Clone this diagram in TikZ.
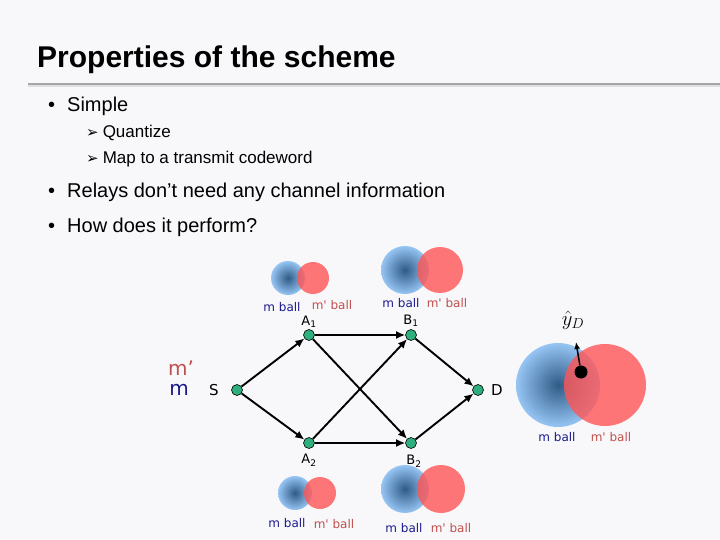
\documentclass[tikz,border=0pt]{standalone}
\usepackage{fontspec}
\setmainfont{Liberation Sans}
\newfontfamily\dejavu{DejaVu Sans}
\usetikzlibrary{arrows.meta}
\definecolor{bg}{HTML}{F8F8FA}
\definecolor{nodeg}{HTML}{2EAF7D}
\definecolor{mblue}{HTML}{1A1A8C}
\definecolor{mred}{HTML}{C0504D}
\definecolor{bdark}{HTML}{1A4A7A}
\definecolor{blight}{HTML}{8CC0F4}
\definecolor{rball}{HTML}{FF5555}
\tikzset{
  relay/.style={circle,draw=black,fill=nodeg,inner sep=0pt,minimum size=11pt,line width=0.6pt},
  link/.style={-{Latex[length=9pt,width=8pt]},line width=1.9pt},
  lbl/.style={font=\dejavu\fontsize{12}{12}\selectfont,inner sep=0pt},
  mb/.style={lbl,text=mblue},
  mr/.style={lbl,text=mred},
}
\newcommand{\ballpair}[6]{%
  \shade[inner color=bdark,outer color=blight,opacity=0.9] (#1,#2) circle (#3);
  \fill[rball,opacity=0.8] (#4,#5) circle (#6);}
\begin{document}
\begin{tikzpicture}[x=1pt,y=-1pt]
\fill[bg] (0,0) rectangle (720,540);
\useasboundingbox (0,0) rectangle (720,540);
\node[anchor=west,inner sep=0pt,font=\bfseries\fontsize{30}{30}\selectfont] (title) at (37,60) {Properties of the scheme};
\draw[gray!70,line width=1.2pt] (28,84) -- (720,84);
\draw[gray!25,line width=1.5pt] (28,86) -- (720,86);
\node[anchor=west,inner sep=0pt,font=\fontsize{20}{20}\selectfont] (b1) at (48,106) {•\hspace{12pt}Simple};
\node[anchor=west,inner sep=0pt,font=\fontsize{17}{17}\selectfont] (s1) at (86,133) {{\dejavu\fontsize{15}{15}\selectfont ➢}\hspace{4pt}Quantize};
\node[anchor=west,inner sep=0pt,font=\fontsize{17}{17}\selectfont] (s2) at (86,159) {{\dejavu\fontsize{15}{15}\selectfont ➢}\hspace{4pt}Map to a transmit codeword};
\node[anchor=west,inner sep=0pt,font=\fontsize{20}{20}\selectfont] (b2) at (48,192) {•\hspace{12pt}Relays don’t need any channel information};
\node[anchor=west,inner sep=0pt,font=\fontsize{20}{20}\selectfont] (b3) at (48,227) {•\hspace{12pt}How does it perform?};
% balls
\ballpair{288}{278}{17}{313}{278}{16}
\ballpair{405}{270}{24}{440}{270}{23}
\ballpair{295}{493}{17}{320}{493}{16}
\ballpair{405}{489}{24}{441}{489}{24}
\ballpair{558}{385}{42}{605}{385}{41}
\node[mb] (l1) at (282,307) {m ball};
\node[mr] (l2) at (332,305) {m' ball};
\node[mb] (l3) at (401,303) {m ball};
\node[mr] (l4) at (447,303) {m' ball};
\node[mb] (l5) at (287,523) {m ball};
\node[mr] (l6) at (334,524) {m' ball};
\node[mb] (l7) at (404,528) {m ball};
\node[mr] (l8) at (451,528) {m' ball};
\node[mb] (l9) at (557,437) {m ball};
\node[mr] (l10) at (611,437) {m' ball};
% network
\node[relay] (S) at (237,390) {};
\node[relay] (A1) at (309,335) {};
\node[relay] (A2) at (309,443) {};
\node[relay] (B1) at (411,335) {};
\node[relay] (B2) at (411,443) {};
\node[relay] (D) at (478,390) {};
\node[lbl,font=\dejavu\fontsize{15}{15}\selectfont] (Sl) at (214,390) {S};
\node[lbl,font=\dejavu\fontsize{15}{15}\selectfont] (Dl) at (497,390) {D};
\node[lbl,font=\dejavu\fontsize{13}{13}\selectfont] (A1l) at (309,322) {A\textsubscript{1}};
\node[lbl,font=\dejavu\fontsize{13}{13}\selectfont] (A2l) at (309,460) {A\textsubscript{2}};
\node[lbl,font=\dejavu\fontsize{13}{13}\selectfont] (B1l) at (411,321) {B\textsubscript{1}};
\node[lbl,font=\dejavu\fontsize{13}{13}\selectfont] (B2l) at (414,461) {B\textsubscript{2}};
\node[lbl,font=\dejavu\fontsize{20}{20}\selectfont,text=mred] (mp) at (181,368) {m’};
\node[lbl,font=\dejavu\fontsize{20}{20}\selectfont,text=mblue] (mm) at (179,390) {m};
\foreach \a/\b in {S/A1,S/A2,A1/B1,A1/B2,A2/B1,A2/B2,B1/D,B2/D}
  \draw[link] (\a) -- (\b);
% estimate
\node[circle,fill=black,inner sep=0pt,minimum size=13pt] (y) at (581,372) {};
\coordinate (yt) at (576,342);
\draw[-{Latex[length=7pt,width=6pt]},line width=1.5pt] (y) -- (yt);
\node[lbl,font=\fontsize{20}{20}\selectfont] (yl) at (573,320) {$\hat{y}_D$};
\end{tikzpicture}
\end{document}
